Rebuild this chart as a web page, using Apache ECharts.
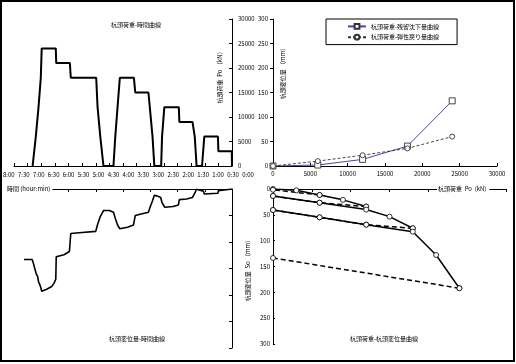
<!DOCTYPE html>
<html><head><meta charset="utf-8">
<script src="https://cdn.jsdelivr.net/npm/echarts@6/dist/echarts.min.js"></script>
<style>html,body{margin:0;padding:0;background:#fff}#c{width:516px;height:364px}</style>
</head><body><div id="c"></div>
<script>
// ---- Panel 1: load vs time (minutes from start) ----
const timeLabels = ['8:00','7:30','7:00','6:30','6:00','5:30','5:00','4:30','4:00','3:30','3:00','2:30','2:00','1:30','1:00','0:30','0:00'];
const loadTime = [0,0.5,30,31,61,66,78,82,87,116,117,149,154,156,171,175,181,184,213,216,247,252,257,261,283,290,296,299,355,357,387,388,419,421,424,426,430,432,436,439];
const loadValue = [0,3000,3000,6000,6000,0,0,6000,9000,9000,12000,12000,6000,0,0,6000,12000,15000,15000,18000,18000,12000,6000,0,0,6000,12000,18000,18000,21000,21000,24000,24000,18000,18000,12000,12000,6000,6000,0];
// ---- Panel 3: displacement vs time ----
const dispTime = [0,1,30,31,61,63,66,78,82,87,100,116,118,130,148,154,157,165,171,175,181,184,200,213,217,230,247,252,257,261,270,283,290,296,300,330,355,358,370,387,388,392,397,408,419,421,423,426,428,431,434,437,440,458];
const dispMm = [0,2.5,3.2,8,9.5,4,1,0.5,8,16,19,20,30,33,34.5,26,16,13,12,22,36,44,47,50,68,72,75,68,55,44,40.6,40.6,52,67,80,82,84,118,124,128,170,178,184,189,193,186,181,175,165,160,151,141,133,133];
// ---- Panel 2: residual settlement / elastic rebound ----
const peakLoads = [0,6000,12000,18000,24000];
const residualMm = [0,2,13.5,40.6,133];
const reboundMm = [0,10,22,36,60];
// ---- Panel 4: load vs displacement, per cycle ----
const c12LoadLoads = [0,3000,6000,9000,12000];      const c12LoadDisp = [0,2.6,11.6,21,34];
const c1UnloadLoads = [6000,0];                      const c1UnloadDisp = [11.6,1.5];
const c2UnloadLoads = [12000,6000,0];                const c2UnloadDisp = [34,26.5,13.5];
const c3LoadLoads = [0,6000,12000,15000,18000];      const c3LoadDisp = [13.5,26.5,39.8,53.5,76];
const c3UnloadLoads = [18000,12000,6000,0];          const c3UnloadDisp = [76,69,54.8,40.6];
const c4LoadLoads = [0,6000,12000,18000,21000,24000]; const c4LoadDisp = [40.6,54.8,69,82.6,127.7,192];
const c4UnloadLoads = [24000,0];                     const c4UnloadDisp = [192,133.5];

const zip = (a,b) => a.map((v,i)=>[v,b[i]]);
const F = '"Noto Sans CJK JP", "Noto Sans", sans-serif';
const plain = v => String(v);
const lbl = {fontSize:6, color:'#000', fontFamily:F, formatter:plain};
const axLine = {show:true, lineStyle:{color:'#000', width:1}};

const chart = echarts.init(document.getElementById('c'), null, {renderer:'canvas'});
const circ = (name, data, xi, yi, dashed) => ({
  name, type:'line', data, xAxisIndex:xi, yAxisIndex:yi, symbol:'circle', symbolSize:5,
  showAllSymbol:true, animation:false,
  itemStyle:{color:'#fff', borderColor:'#000', borderWidth:0.8},
  lineStyle:{color:'#000', width:1.5, type: dashed ? [5,3] : 'solid'}
});
const txt = (text, x, y, rot, extra) => ({
  type:'text', x, y, rotation: rot||0, z:100,
  style: Object.assign({text, font:'6px '+F, fill:'#000', align:'center', verticalAlign:'middle', textAlign:'center', textVerticalAlign:'middle'}, extra||{})
});

chart.setOption({
  animation:false,
  backgroundColor:'#fff',
  grid:[
    {left:14, top:19, width:218, height:147},
    {left:7, top:19, width:241, height:147},
    {left:273, top:19, width:224, height:147},
    {left:14, top:189, width:218, height:159},
    {left:273, top:189, width:233, height:155}
  ],
  xAxis:[
    {gridIndex:0, type:'value', min:0, max:480, interval:30, inverse:true, position:'bottom',
     axisLine:axLine, axisTick:{show:true, inside:true, length:3, lineStyle:{color:'#000'}}, axisLabel:{show:false}, splitLine:{show:false}},
    {gridIndex:1, type:'category', data:timeLabels, boundaryGap:false, position:'bottom',
     axisLine:{show:false}, axisTick:{show:false}, axisLabel:{interval:0, margin:6, fontSize:6, color:'#000', fontFamily:F}, splitLine:{show:false}},
    {gridIndex:2, type:'value', min:0, max:30000, interval:5000, position:'bottom',
     axisLine:axLine, axisTick:{show:true, inside:true, length:3, lineStyle:{color:'#000'}}, axisLabel:Object.assign({margin:5}, lbl), splitLine:{show:false}},
    {gridIndex:3, type:'value', min:0, max:480, interval:60, inverse:true, position:'top',
     axisLine:axLine, axisTick:{show:true, inside:true, length:3, lineStyle:{color:'#000'}}, axisLabel:{show:false}, splitLine:{show:false}},
    {gridIndex:4, type:'value', min:0, max:30000, interval:5000, position:'top',
     axisLine:axLine, axisTick:{show:true, inside:true, length:3, lineStyle:{color:'#000'}}, axisLabel:{show:false}, splitLine:{show:false}}
  ],
  yAxis:[
    {gridIndex:0, type:'value', min:0, max:30000, interval:5000, position:'right',
     axisLine:axLine, axisTick:{show:true, inside:true, length:3, lineStyle:{color:'#000'}}, axisLabel:Object.assign({margin:6}, lbl), splitLine:{show:false}},
    {gridIndex:1, type:'value', show:false},
    {gridIndex:2, type:'value', min:0, max:300, interval:50, position:'left',
     axisLine:axLine, axisTick:{show:true, inside:false, length:3, lineStyle:{color:'#000'}}, axisLabel:Object.assign({margin:5}, lbl), splitLine:{show:false}},
    {gridIndex:3, type:'value', min:0, max:300, interval:50, inverse:true, position:'right',
     axisLine:axLine, axisTick:{show:true, inside:true, length:3, lineStyle:{color:'#000'}}, axisLabel:{show:false}, splitLine:{show:false}},
    {gridIndex:4, type:'value', min:0, max:300, interval:50, inverse:true, position:'left',
     axisLine:axLine, axisTick:{show:true, inside:true, length:2, lineStyle:{color:'#000'}}, axisLabel:Object.assign({margin:3}, lbl), splitLine:{show:false}}
  ],
  legend:{
    data:['杭頭荷重-残留沈下量曲線','杭頭荷重-弾性戻り量曲線'],
    left:326, top:19, orient:'vertical', itemWidth:18, itemHeight:6, itemGap:4,
    padding:[4,18,4,21], borderColor:'#000', borderWidth:1, borderRadius:0,
    textStyle:{fontSize:6, color:'#000', fontFamily:F}, selectedMode:false
  },
  series:[
    {name:'load-time', type:'line', data:zip(loadTime, loadValue), xAxisIndex:0, yAxisIndex:0, symbol:'none',
     lineStyle:{color:'#000', width:2}},
    {name:'disp-time', type:'line', data:zip(dispTime, dispMm), xAxisIndex:3, yAxisIndex:3, symbol:'none',
     lineStyle:{color:'#000', width:1.6}},
    {name:'杭頭荷重-残留沈下量曲線', type:'line', data:zip(peakLoads, residualMm), xAxisIndex:2, yAxisIndex:2,
     symbol:'rect', symbolSize:6, itemStyle:{color:'#fff', borderColor:'#333', borderWidth:0.9},
     lineStyle:{color:'#4646a8', width:1}},
    {name:'杭頭荷重-弾性戻り量曲線', type:'line', data:zip(peakLoads, reboundMm), xAxisIndex:2, yAxisIndex:2,
     symbol:'circle', symbolSize:5, itemStyle:{color:'#fff', borderColor:'#333', borderWidth:0.9},
     lineStyle:{color:'#333', width:0.9, type:[3,2]}},
    circ('c12', zip(c12LoadLoads, c12LoadDisp), 4, 4, false),
    circ('c1u', zip(c1UnloadLoads, c1UnloadDisp), 4, 4, true),
    circ('c2u', zip(c2UnloadLoads, c2UnloadDisp), 4, 4, true),
    circ('c3l', zip(c3LoadLoads, c3LoadDisp), 4, 4, false),
    circ('c3u', zip(c3UnloadLoads, c3UnloadDisp), 4, 4, true),
    circ('c4l', zip(c4LoadLoads, c4LoadDisp), 4, 4, false),
    circ('c4u', zip(c4UnloadLoads, c4UnloadDisp), 4, 4, true)
  ],
  graphic:[
    {type:'rect', z:100, shape:{x:1, y:1, width:513, height:360}, style:{fill:'none', stroke:'#000', lineWidth:2}},
    txt('杭頭荷重-時間曲線', 136, 25),
    txt('杭頭変位量-時間曲線', 137, 339),
    txt('杭頭荷重-杭頭変位量曲線', 384, 339),
    txt('杭頭荷重  Po （kN）', 220, 76, Math.PI/2),
    txt('杭頭変位量 （mm）', 283, 72, Math.PI/2),
    txt('杭頭変位量  So （mm）', 248, 269, Math.PI/2),
    txt('時間 (hour:min)', 6, 189, 0, {align:'left', textAlign:'left', backgroundColor:'#fff', padding:[1,2,1,1]}),
    txt('杭頭荷重  Po  (kN)', 437, 189, 0, {align:'left', textAlign:'left', backgroundColor:'#fff', padding:[1,3,1,1]})
  ]
});
</script></body></html>
